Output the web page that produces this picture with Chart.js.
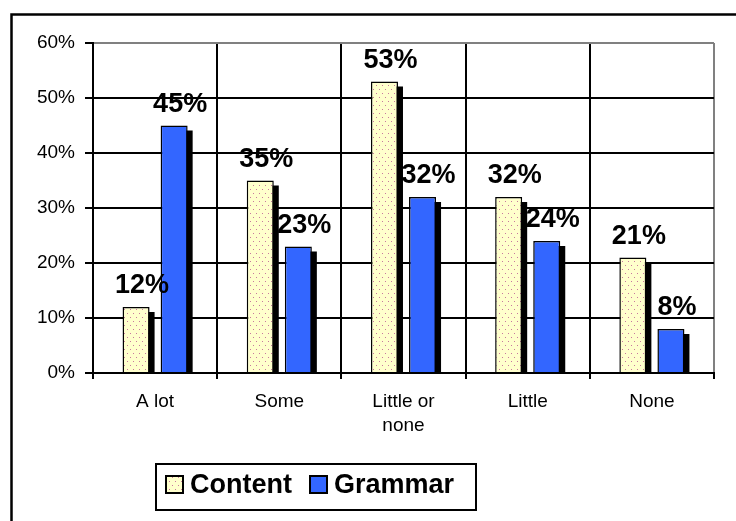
<!DOCTYPE html>
<html>
<head>
<meta charset="utf-8">
<script src="https://cdn.jsdelivr.net/npm/chart.js@4.4.1/dist/chart.umd.min.js"></script>
<style>
    html, body { margin: 0; padding: 0; background: #fff; }
    canvas { display: block; }
</style>
</head>
<body>
<canvas id="chart" width="736" height="521"></canvas>
<script>
// data
const categories = ['A lot', 'Some', ['Little or', 'none'], 'Little', 'None'];
const contentValues = [12, 35, 53, 32, 21];
const grammarValues = [45, 23, 32, 24, 8];
const yTickLabels = ['0%', '10%', '20%', '30%', '40%', '50%', '60%'];
const seriesNames = ['Content', 'Grammar'];

const FONT = "'Liberation Sans', Arial, sans-serif";
const blue = '#3366FF';

// pale yellow with little dots, like the excel fill
function dotPattern() {
    const c = document.createElement('canvas');
    c.width = 6; c.height = 8;
    const g = c.getContext('2d');
    g.fillStyle = '#FFFFCC';
    g.fillRect(0, 0, 6, 8);
    g.fillStyle = '#C8789E';
    g.fillRect(1, 1, 1, 1);
    g.fillRect(4, 5, 1, 1);
    return g.createPattern(c, 'repeat');
}
const dots = dotPattern();

// black drop shadow behind every bar
const barShadow = {
    id: 'barShadow',
    beforeDatasetsDraw(chart) {
        const ctx = chart.ctx;
        ctx.save();
        ctx.fillStyle = '#000';
        chart.data.datasets.forEach((ds, i) => {
            chart.getDatasetMeta(i).data.forEach(el => {
                const p = el.getProps(['x', 'y', 'base', 'width'], true);
                ctx.fillRect(p.x - p.width / 2 + 5, p.y + 5, p.width, p.base - p.y - 5);
            });
        });
        ctx.restore();
    }
};

// bold value labels above bars
const valueLabels = {
    id: 'valueLabels',
    afterDatasetsDraw(chart) {
        const ctx = chart.ctx;
        ctx.save();
        ctx.font = 'bold 27px ' + FONT;
        ctx.fillStyle = '#000';
        ctx.textAlign = 'center';
        ctx.textBaseline = 'alphabetic';
        chart.data.datasets.forEach((ds, i) => {
            chart.getDatasetMeta(i).data.forEach((el, j) => {
                ctx.fillText(ds.data[j] + '%', el.x + 6, el.y - 14);
            });
        });
        ctx.restore();
    }
};

// legend box + outer frame
const frameAndLegend = {
    id: 'frameAndLegend',
    beforeDraw(chart) {
        const ctx = chart.ctx;
        ctx.save();
        ctx.fillStyle = '#fff';
        ctx.fillRect(0, 0, chart.width, chart.height);
        ctx.restore();
    },
    afterDraw(chart) {
        const ctx = chart.ctx;
        ctx.save();
        ctx.strokeStyle = '#000';
        ctx.lineWidth = 2.5;
        ctx.beginPath();
        ctx.moveTo(11.5, chart.height);
        ctx.lineTo(11.5, 14.5);
        ctx.lineTo(chart.width, 14.5);
        ctx.stroke();

        // legend
        ctx.lineWidth = 2;
        ctx.strokeRect(156, 464, 320, 46);
        const items = [
            { x: 166, fill: dots, name: seriesNames[0] },
            { x: 310, fill: blue, name: seriesNames[1] }
        ];
        ctx.font = 'bold 27px ' + FONT;
        ctx.textBaseline = 'middle';
        ctx.textAlign = 'left';
        items.forEach(it => {
            ctx.fillStyle = it.fill;
            ctx.fillRect(it.x, 476, 17, 17);
            ctx.lineWidth = 2;
            ctx.strokeRect(it.x, 476, 17, 17);
            ctx.fillStyle = '#000';
            ctx.fillText(it.name, it.x + 24, 486);
        });
        ctx.restore();
    }
};

new Chart(document.getElementById('chart'), {
    type: 'bar',
    data: {
        labels: categories,
        datasets: [{
            label: seriesNames[0],
            data: contentValues,
            backgroundColor: dots,
            borderColor: '#000',
            borderWidth: 1.5,
            categoryPercentage: 0.613,
            barPercentage: 0.71
        }, {
            label: seriesNames[1],
            data: grammarValues,
            backgroundColor: blue,
            borderColor: '#000',
            borderWidth: 1.5,
            categoryPercentage: 0.613,
            barPercentage: 0.71
        }]
    },
    options: {
        responsive: false,
        animation: false,
        layout: { padding: { left: 0, top: 43, right: 22, bottom: 0 } },
        plugins: {
            legend: { display: false },
            tooltip: { enabled: false }
        },
        scales: {
            x: {
                grid: {
                    offset: true,
                    color: c => c.tick ? '#000' : '#808080',
                    lineWidth: 2,
                    tickLength: 6,
                    tickColor: '#000',
                    tickWidth: 2
                },
                border: { color: '#000', width: 2 },
                ticks: {
                    color: '#000',
                    font: { family: FONT, size: 19, lineHeight: 1.3 },
                    padding: 10,
                    maxRotation: 0,
                    autoSkip: false
                },
                afterFit: s => { s.height = 148; }
            },
            y: {
                min: 0,
                max: 60,
                ticks: {
                    stepSize: 10,
                    callback: (v, i) => yTickLabels[i],
                    color: '#000',
                    font: { family: FONT, size: 19 },
                    padding: 10
                },
                grid: {
                    color: c => c.index === yTickLabels.length - 1 ? '#808080' : '#000',
                    lineWidth: 2,
                    tickLength: 8,
                    tickColor: '#000',
                    tickWidth: 2
                },
                border: { color: '#000', width: 2 },
                afterFit: s => { s.width = 93; }
            }
        }
    },
    plugins: [barShadow, valueLabels, frameAndLegend]
});
</script>
</body>
</html>
